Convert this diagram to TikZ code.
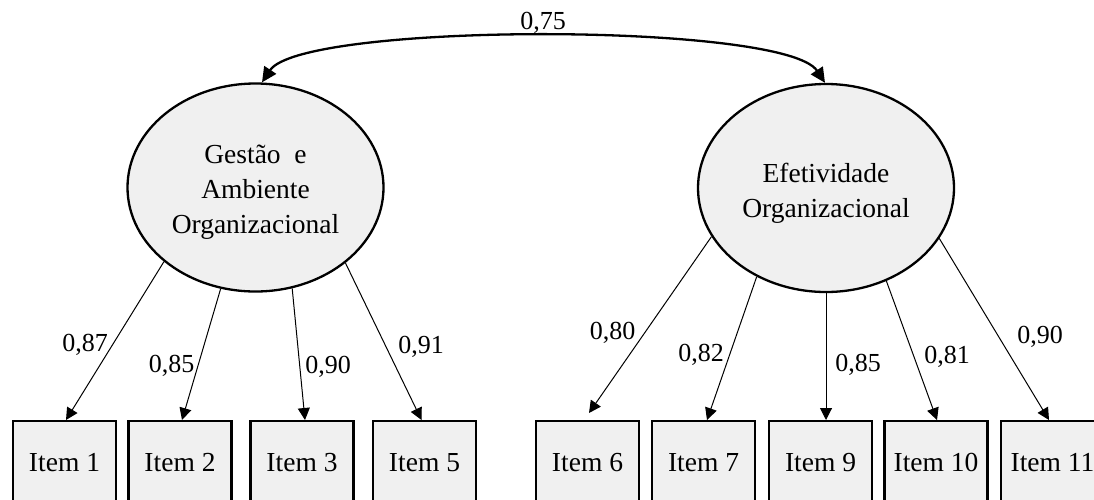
\documentclass[tikz,border=0pt]{standalone}
\usepackage{fontspec}
\setmainfont{Liberation Serif}
\usetikzlibrary{arrows.meta,shapes.geometric}
\definecolor{latentfill}{RGB}{240,240,240}
\begin{document}
\begin{tikzpicture}[x=1pt,y=-1pt,
  latent/.style={ellipse,draw,line width=2.3pt,fill=latentfill,
    minimum width=256pt,minimum height=208pt,inner sep=0pt},
  latenttext/.style={align=center,inner sep=0pt,
    font=\fontsize{27.5}{35}\selectfont},
  indicator/.style={rectangle,draw,line width=2.4pt,fill=latentfill,
    minimum width=103pt,minimum height=82.6pt,inner sep=0pt,
    font=\fontsize{27.5}{33}\selectfont},
  loading/.style={line width=1pt,-{Triangle[length=12pt,width=12pt]}},
  covar/.style={line width=2.3pt,
    {Triangle[length=15pt,width=14pt]}-{Triangle[length=15pt,width=14pt]}},
  coef/.style={anchor=base,inner sep=0pt,font=\fontsize{26}{30}\selectfont}
]
\useasboundingbox (0,0) rectangle (1094,499);
\clip (0,0) rectangle (1094,499);

% latent factors
\node[latent] (L) at (255.5,187.5) {};
\node[latenttext] (Ltxt) at ([yshift=-4.3pt]L.center)
  {Gestão\ \ e\\Ambiente\\Organizacional};
\node[latent] (R) at (826,188) {};
\node[latenttext] (Rtxt) at ([yshift=-5.7pt]R.center)
  {Efetividade\\Organizacional};

% observed items
\node[indicator] (B1)  at (64.5,462.5)  {Item 1};
\node[indicator] (B2)  at (180,462.5)   {Item 2};
\node[indicator] (B3)  at (302,462.5)   {Item 3};
\node[indicator] (B5)  at (424.5,462.5) {Item 5};
\node[indicator] (B6)  at (587.5,462.5) {Item 6};
\node[indicator] (B7)  at (703.5,462.5) {Item 7};
\node[indicator] (B9)  at (820.5,462.5) {Item 9};
\node[indicator] (B10) at (936,462.5)   {Item 10};
\node[indicator] (B11) at (1052.5,462.5){Item 11};

% factor covariance
\draw[covar] ([xshift=6.5pt]L.north) .. controls (302,22) and (785,22) .. ([xshift=-1pt]R.north);
\node[coef] (c0) at (543,29.3) {0,75};

% factor loadings
\draw[loading] (L.219.6) -- ([xshift=1.5pt]B1.north);
\draw[loading] (L.251.9) -- ([xshift=2pt]B2.north);
\draw[loading] (L.290.8) -- ([xshift=3pt]B3.north);
\draw[loading] (L.320.1) -- ([xshift=-3pt]B5.north);
\draw[loading] (R.203.9) -- ([xshift=1.5pt,yshift=7pt]B6.north);
\draw[loading] (R.232.8) -- ([xshift=3.5pt]B7.north);
\draw[loading] (R.south) -- (R.south |- B9.north);
\draw[loading] (R.303.7) -- ([xshift=1pt]B10.north);
\draw[loading] (R.336.5) -- ([xshift=-3.5pt]B11.north);

\node[coef] (c1)  at (85,351)    {0,87};
\node[coef] (c2)  at (171.5,372.7) {0,85};
\node[coef] (c3)  at (328,373)   {0,90};
\node[coef] (c5)  at (421,353)   {0,91};
\node[coef] (c6)  at (612.5,339) {0,80};
\node[coef] (c7)  at (701,361)   {0,82};
\node[coef] (c9)  at (858,371.7) {0,85};
\node[coef] (c10) at (947,363)   {0,81};
\node[coef] (c11) at (1040,343)  {0,90};
\end{tikzpicture}
\end{document}
